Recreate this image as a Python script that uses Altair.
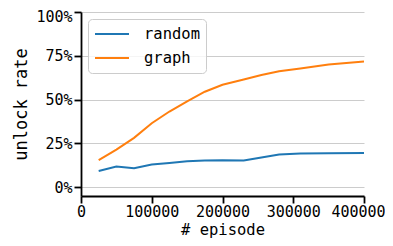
import altair as alt
import pandas as pd

episodes = [25000, 50000, 75000, 100000, 125000, 150000, 175000, 200000,
            230000, 255000, 280000, 310000, 350000, 400000]
random_rate = [0.093, 0.118, 0.108, 0.130, 0.139, 0.148, 0.153, 0.154,
               0.152, 0.170, 0.187, 0.192, 0.194, 0.195]
graph_rate = [0.155, 0.215, 0.282, 0.365, 0.432, 0.490, 0.545, 0.585,
              0.615, 0.640, 0.662, 0.678, 0.700, 0.718]
series = ["random", "graph"]
colors = ["#1f77b4", "#ff7f0e"]
x_ticks = [0, 100000, 200000, 300000, 400000]
y_ticks = [0, 0.25, 0.5, 0.75, 1.0]

rows = []
for name, vals in zip(series, [random_rate, graph_rate]):
    for e, v in zip(episodes, vals):
        rows.append({"episode": e, "rate": v, "series": name})
df = pd.DataFrame(rows)

FONT = "DejaVu Sans Mono"

chart = alt.Chart(df).mark_line(strokeWidth=2).encode(
    x=alt.X("episode:Q",
            scale=alt.Scale(domain=[0, 400000], nice=False, zero=False),
            axis=alt.Axis(title="# episode", values=x_ticks, format="d",
                          grid=False, tickSize=7, labelPadding=1,
                          titlePadding=3, titleFontSize=15.5,
                          labelOffset={"condition": {"test": "datum.value == 400000",
                                                     "value": -6}, "value": 0})),
    y=alt.Y("rate:Q",
            scale=alt.Scale(domain=[-0.05, 1.0], nice=False, zero=False),
            axis=alt.Axis(title="unlock rate", values=y_ticks, format=".0%",
                          grid=True, tickSize=7, labelPadding=2,
                          titlePadding=5,
                          labelOffset={"condition": {"test": "datum.value == 1",
                                                     "value": 4}, "value": 0})),
    color=alt.Color("series:N", sort=series,
                    scale=alt.Scale(domain=series, range=colors),
                    legend=alt.Legend(title=None, orient="none", legendX=7, legendY=7,
                                      symbolType="M-1,0H3.25", symbolSize=256,
                                      symbolStrokeWidth=2, labelOffset=32,
                                      labelFont=FONT, labelFontSize=15.5,
                                      labelColor="#000000",
                                      padding=6, rowPadding=6,
                                      fillColor="rgba(255,255,255,0.8)",
                                      strokeColor="#cccccc", cornerRadius=4)),
).properties(
    width=283, height=184,
    autosize=alt.AutoSizeParams(type="none"),
    padding={"left": 73, "top": 4, "right": 21, "bottom": 42},
).configure_view(
    stroke=None
).configure_axis(
    labelFont=FONT, titleFont=FONT, labelFontSize=15, titleFontSize=17,
    titleFontWeight="normal", labelColor="#000000", titleColor="#000000",
    domainColor="#000000", tickColor="#000000", domainWidth=1.8, tickWidth=1.8,
    gridColor="#cccccc", gridWidth=1, labelFlush=False
)

chart.save("out.html", embed_options={"renderer": "svg", "actions": False})
